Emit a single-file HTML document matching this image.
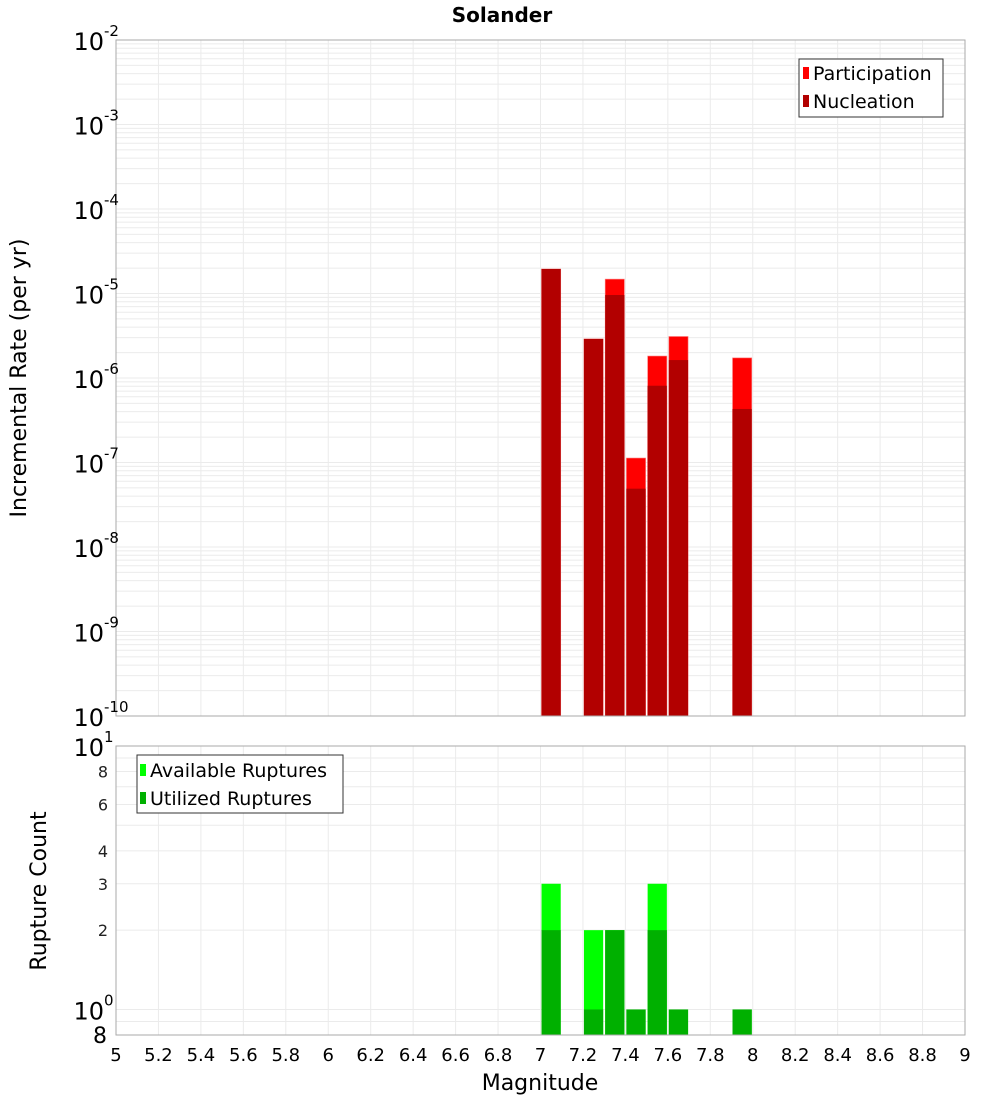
<!DOCTYPE html>
<html><head><meta charset="utf-8"><style>
body{margin:0;background:#fff;}
svg text{font-family:"DejaVu Sans","Liberation Sans",sans-serif;}
</style></head><body>
<svg id="c" width="1000" height="1100" xmlns="http://www.w3.org/2000/svg">
<text x="502" y="22" font-size="20" font-weight="bold" text-anchor="middle">Solander</text>
<g id="topPlot"></g>
<g id="botPlot"></g>
<text transform="translate(26,378) rotate(-90)" font-size="22" text-anchor="middle">Incremental Rate (per yr)</text>
<text transform="translate(46,891) rotate(-90)" font-size="22" text-anchor="middle">Rupture Count</text>
<text x="540" y="1090" font-size="22" text-anchor="middle">Magnitude</text>
<g>
<rect x="799" y="59" width="144" height="58" fill="#fff" stroke="#333"/>
<rect x="803" y="67" width="6" height="12" fill="#ff0000"/>
<text x="813" y="80" font-size="19">Participation</text>
<rect x="803" y="95" width="6" height="12" fill="#b20000"/>
<text x="813" y="108" font-size="19">Nucleation</text>
</g>
<g>
<rect x="137" y="755" width="206" height="58" fill="#fff" stroke="#333"/>
<rect x="140" y="764" width="6" height="12" fill="#00ff00"/>
<text x="150" y="777" font-size="19">Available Ruptures</text>
<rect x="140" y="792" width="6" height="12" fill="#00b000"/>
<text x="150" y="805" font-size="19">Utilized Ruptures</text>
</g>
</svg>
<script>
const mags=[7.05,7.25,7.35,7.45,7.55,7.65,7.95];
const participation=[1.95e-5,2.9e-6,1.48e-5,1.13e-7,1.82e-6,3.1e-6,1.73e-6];
const nucleation=[1.95e-5,2.9e-6,9.6e-6,4.9e-8,8.1e-7,1.63e-6,4.3e-7];
const available=[3,2,2,1,3,1,1];
const utilized=[2,1,2,1,2,1,1];
const xTicks=[5,5.2,5.4,5.6,5.8,6,6.2,6.4,6.6,6.8,7,7.2,7.4,7.6,7.8,8,8.2,8.4,8.6,8.8,9];
const topExps=[-2,-3,-4,-5,-6,-7,-8,-9,-10];
const botTicks=[8,6,4,3,2];

const NS="http://www.w3.org/2000/svg";
const X0=116,X1=965;
const x=m=>X0+(m-5)/4*(X1-X0);
const T0=40,T1=716;
const yT=v=>T0+(-2-Math.log10(v))/8*(T1-T0);
const B0=746,B1=1035,lmin=Math.log10(0.8);
const yB=v=>B0+(1-Math.log10(v))/(1-lmin)*(B1-B0);
function el(p,tag,a){const e=document.createElementNS(NS,tag);for(const k in a)e.setAttribute(k,a[k]);p.appendChild(e);return e;}
const gTop=document.getElementById('topPlot'),gBot=document.getElementById('botPlot');

for(let d=-10;d<-2;d++)for(let k=1;k<10;k++){const y=yT(k*Math.pow(10,d));
 const l=el(gTop,'line',{x1:X0,x2:X1,y1:y,y2:y,stroke:'#ebebeb','stroke-width':1});
 
 }
for(const t of xTicks){for(const [g,a,b] of [[gTop,T0,T1],[gBot,B0,B1]]){
 const l=el(g,'line',{x1:x(t),x2:x(t),y1:a,y2:b,stroke:'#ebebeb','stroke-width':1});
 
 }}
for(const v of [0.8,0.9,1,2,3,4,5,6,7,8,9,10]){const y=yB(v);
 const l=el(gBot,'line',{x1:X0,x2:X1,y1:y,y2:y,stroke:'#ebebeb','stroke-width':1});
 
 }

mags.forEach((m,i)=>{
 const xa=x(m-0.05)+1,w=x(m+0.05)-x(m-0.05)-2;
 let r=el(gTop,'rect',{x:xa,y:yT(participation[i]),width:w,height:T1-yT(participation[i]),fill:'#ff0000',stroke:'#ff8080','stroke-width':0.6});
 
 
 r=el(gTop,'rect',{x:xa,y:yT(nucleation[i]),width:w,height:T1-yT(nucleation[i]),fill:'#b20000'});
 
 
 r=el(gBot,'rect',{x:xa,y:yB(available[i]),width:w,height:B1-yB(available[i]),fill:'#00ff00'});
 
 
 r=el(gBot,'rect',{x:xa,y:yB(utilized[i]),width:w,height:B1-yB(utilized[i]),fill:'#00b000'});
 
 
});

for(const [g,a,b] of [[gTop,T0,T1],[gBot,B0,B1]]){
 const f=el(g,'rect',{x:X0,y:a,width:X1-X0,height:b-a,fill:'none',stroke:'#aaa'});
 
 }

for(const e of topExps){const y=yT(Math.pow(10,e));
 const t=el(gTop,'text',{x:104,y:y+10,'font-size':24,'text-anchor':'end'});
 
 
 t.textContent='10';
 const s=el(gTop,'text',{x:104,y:y-4,'font-size':15});
 
 
 s.textContent=String(e);}
for(const v of botTicks){const t=el(gBot,'text',{x:108,y:yB(v)+6,'font-size':16,'text-anchor':'end',fill:'#222'});
 
 
 t.textContent=String(v);}
for(const [v,e] of [[10,'1'],[1,'0']]){const y=yB(v);
 const t=el(gBot,'text',{x:104,y:y+10,'font-size':24,'text-anchor':'end'});
 
 
 t.textContent='10';
 const s=el(gBot,'text',{x:104,y:y-4,'font-size':15});
 
 
 s.textContent=e;}
{const t=el(gBot,'text',{x:107,y:1043,'font-size':22,'text-anchor':'end'});
 
 
 t.textContent='8';}
for(const v of xTicks){const t=el(gBot,'text',{x:x(v),y:1061,'font-size':18,'text-anchor':'middle'});
 
 
 t.textContent=String(v);}
</script>
</body></html>
